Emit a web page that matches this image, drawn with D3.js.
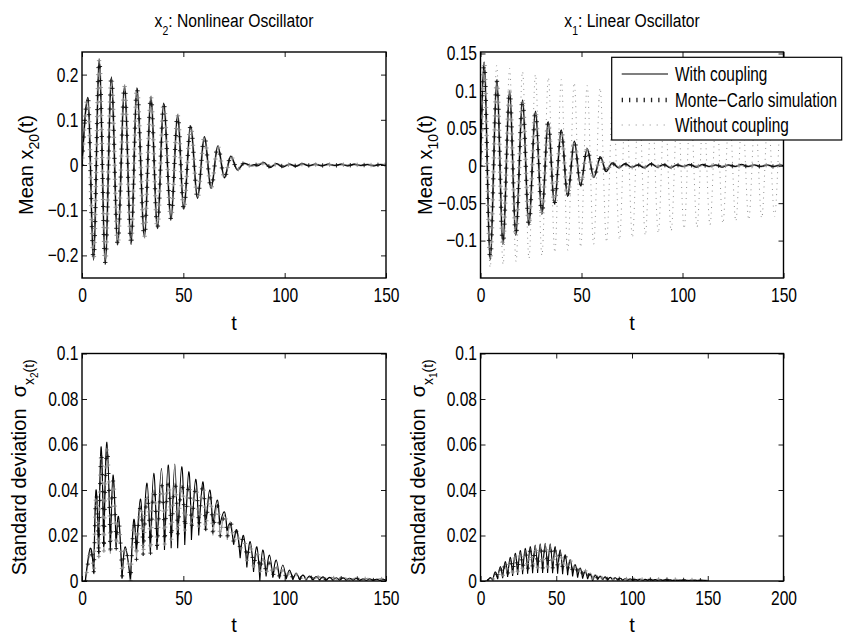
<!DOCTYPE html>
<html>
<head>
<meta charset="utf-8">
<script src="https://cdn.jsdelivr.net/npm/d3@7"></script>
<style>
  html, body { margin: 0; padding: 0; background: #fff; }
  svg { display: block; font-family: "Liberation Sans", Arial, Helvetica, sans-serif; }
</style>
</head>
<body>
<svg id="fig" width="847" height="635"></svg>
<script>
// ---------------------------------------------------------------
// Data: [t, value] turning points of each response curve
// ---------------------------------------------------------------

// Mean of x2 (nonlinear oscillator), coupled model
const meanX2Coupled = [
  [0,0],[2.95,0.150],[5.7,-0.211],[8.5,0.235],[11.5,-0.219],[14.5,0.195],[17.6,-0.177],
  [21.0,0.175],[24.2,-0.176],[27.1,0.171],[30.8,-0.160],[34.0,0.151],[37.2,-0.141],
  [40.3,0.137],[43.9,-0.120],[47.2,0.111],[50.2,-0.098],[53.6,0.087],[57.0,-0.074],
  [60.4,0.063],[63.7,-0.052],[67.0,0.042],[70.3,-0.028],[73.4,0.020],[76.7,-0.011],
  [80.0,0.004],[83.3,-0.001],[85.0,0.001],[86.6,-0.002],[89.7,0.006],[92.7,-0.006],
  [95.9,0.003],[99.1,-0.005],[102.3,0.002],[105.5,-0.003],[108.7,0.003],[111.9,-0.002],
  [115.1,0.002],[118.3,-0.002],[121.5,0.002],[124.7,-0.001],[127.9,0.002],[131.1,-0.002],
  [134.3,0.002],[137.5,-0.001],[140.7,0.001],[143.9,-0.002],[147.1,0.001],[150,0]
];
// Mean of x2, Monte-Carlo estimate
const meanX2MC = [
  [0,0],[2.9,0.148],[5.7,-0.208],[8.5,0.232],[11.5,-0.216],[14.5,0.193],[17.6,-0.176],
  [21.0,0.174],[24.2,-0.174],[27.1,0.169],[30.8,-0.159],[34.0,0.150],[37.2,-0.140],
  [40.3,0.136],[43.9,-0.119],[47.2,0.110],[50.2,-0.097],[53.6,0.086],[57.0,-0.073],
  [60.4,0.062],[63.7,-0.051],[67.0,0.041],[70.3,-0.028],[73.4,0.019],[76.7,-0.010],
  [80.0,0.004],[83.3,-0.002],[86.6,0.001],[89.8,0.004],[92.9,-0.004],[96.1,0.002],
  [99.3,-0.003],[102.5,0.001],[105.7,-0.002],[108.9,0.002],[112.1,-0.001],[115.3,0.001],
  [118.5,-0.001],[121.7,0.001],[124.9,-0.001],[128.1,0.001],[131.3,-0.001],[134.5,0.001],
  [137.7,-0.001],[140.9,0.001],[144.1,-0.001],[147.3,0.001],[150,0]
];

// Mean of x1 (linear oscillator), coupled model
const meanX1Coupled = [
  [0,0],[1.8,0.139],[4.8,-0.126],[8.1,0.114],[11.1,-0.105],[14.4,0.100],[17.5,-0.093],
  [20.8,0.088],[23.95,-0.080],[27.2,0.073],[30.4,-0.065],[33.5,0.059],[36.6,-0.051],
  [40.0,0.048],[43.1,-0.041],[46.5,0.033],[49.5,-0.027],[52.8,0.023],[56.1,-0.016],
  [59.4,0.012],[62.2,-0.008],[65.2,0.004],[68.4,-0.003],[71.6,0.003],[74.8,-0.002],
  [78.0,0.001],[81.2,-0.003],[84.4,0.003],[87.6,-0.002],[90.8,0.002],[94.0,-0.003],
  [97.2,0.001],[100.4,-0.001],[103.6,0.002],[106.8,-0.002],[110.0,0.002],[113.2,-0.001],
  [116.4,0.001],[119.6,-0.002],[122.8,0.001],[126.0,-0.001],[129.2,0.002],[132.4,-0.001],
  [135.6,0.001],[138.8,-0.001],[142.0,0.001],[145.2,-0.001],[148.4,0.001],[150,0]
];
// Mean of x1, Monte-Carlo estimate
const meanX1MC = [
  [0,0],[1.8,0.137],[4.8,-0.124],[8.1,0.113],[11.1,-0.104],[14.4,0.099],[17.5,-0.092],
  [20.8,0.087],[23.95,-0.079],[27.2,0.072],[30.4,-0.064],[33.5,0.058],[36.6,-0.050],
  [40.0,0.047],[43.1,-0.040],[46.5,0.032],[49.5,-0.026],[52.8,0.022],[56.1,-0.015],
  [59.4,0.011],[62.2,-0.007],[65.2,0.003],[68.4,-0.002],[71.6,0.002],[74.8,-0.002],
  [78.0,0.001],[81.2,-0.002],[84.4,0.002],[87.6,-0.001],[90.8,0.001],[94.0,-0.002],
  [97.2,0.001],[100.4,-0.001],[103.6,0.001],[106.8,-0.001],[110.0,0.001],[113.2,-0.001],
  [116.4,0.001],[119.6,-0.001],[122.8,0.001],[126.0,-0.001],[129.2,0.001],[132.4,-0.001],
  [135.6,0.001],[138.8,-0.001],[142.0,0.001],[145.2,-0.001],[148.4,0.001],[150,0]
];
// Mean of x1 with the coupling removed
const meanX1Uncoupled = [
  [0,0],[1.6,0.139],[4.8,-0.136],[8.0,0.134],[11.2,-0.132],[14.4,0.130],[17.6,-0.128],
  [20.8,0.126],[24.0,-0.124],[27.2,0.122],[30.4,-0.120],[33.6,0.118],[36.8,-0.116],
  [40.0,0.115],[43.2,-0.113],[46.4,0.111],[49.6,-0.109],[52.8,0.107],[56.0,-0.105],
  [59.2,0.104],[62.4,-0.102],[65.6,0.101],[68.8,-0.099],[72.0,0.098],[75.2,-0.096],
  [78.4,0.095],[81.6,-0.093],[84.8,0.092],[88.0,-0.090],[91.2,0.089],[94.4,-0.087],
  [97.6,0.086],[100.8,-0.084],[104.0,0.083],[107.2,-0.082],[110.4,0.081],[113.6,-0.079],
  [116.8,0.078],[120.0,-0.077],[123.2,0.076],[126.4,-0.074],[129.6,0.073],[132.8,-0.072],
  [136.0,0.071],[139.2,-0.070],[142.4,0.069],[145.6,-0.068],[148.8,0.067],[150,0.040]
];

// Standard deviation of x2: alternating troughs and peaks
const stdX2Coupled = [
  [1.6,0],[4.1,0.0144],[5.8,0.0034],[6.9,0.040],[8.2,0.012],[9.4,0.059],[10.7,0.015],
  [12.3,0.061],[14.0,0.0136],[15.3,0.0466],[16.8,0.015],[18.1,0.028],[19.75,0.001],
  [21.4,0.015],[23.9,0],[25.5,0.0268],[26.8,0.013],[28.8,0.036],[30.1,0.0144],
  [32.1,0.043],[33.7,0.0129],[35.4,0.0473],[37.0,0.0136],[39.2,0.0495],[40.7,0.0136],
  [42.5,0.051],[44.0,0.0144],[45.8,0.0514],[47.2,0.0144],[49.2,0.0502],[50.7,0.0158],
  [52.7,0.048],[54.0,0.018],[56.1,0.0447],[57.6,0.020],[59.6,0.0436],[60.9,0.0224],
  [63.0,0.040],[64.5,0.0238],[66.7,0.0356],[68.0,0.0246],[70.3,0.0304],[71.6,0.022],
  [73.2,0.025],[74.8,0.016],[76.4,0.0224],[78.05,0.010],[79.7,0.020],[81.35,0.006],
  [83.0,0.0173],[84.65,0.004],[86.3,0.015],[87.75,0],[89.2,0.0136],[90.85,0.002],
  [92.5,0.0114],[94.15,0.0015],[95.8,0.0092],[97.45,0.001],[99.1,0.007],[100.75,0.0008],
  [102.4,0.0048],[104.05,0.0005],[105.7,0.0034],[107.35,0.0005],[109.0,0.0026],
  [110.65,0.0004],[112.3,0.0022],[113.9,0.0004],[115.6,0.0020],[117.2,0.0003],
  [118.9,0.0018],[120.5,0.0003],[122.2,0.0016],[123.8,0.0003],[125.5,0.0014],
  [127.1,0.0003],[128.8,0.0013],[130.4,0.0003],[132.1,0.0012],[133.7,0.0003],
  [135.4,0.0011],[137.0,0.0002],[138.7,0.0010],[140.3,0.0002],[142.0,0.0009],
  [143.6,0.0002],[145.3,0.0008],[146.9,0.0002],[148.6,0.0007],[150,0.0002]
];
const stdX2MC = [
  [1.8,0],[4.2,0.013],[5.9,0.003],[7.0,0.038],[8.3,0.010],[9.5,0.056],[10.8,0.013],
  [12.4,0.058],[14.0,0.012],[15.4,0.044],[16.9,0.014],[18.2,0.026],[19.8,0.002],
  [21.5,0.014],[24.0,0],[25.6,0.025],[26.9,0.0095],[28.9,0.033],[30.2,0.011],
  [32.2,0.037],[33.8,0.012],[35.5,0.040],[37.1,0.014],[39.3,0.042],[40.8,0.016],
  [42.6,0.043],[44.1,0.018],[45.9,0.043],[47.3,0.020],[49.3,0.042],[50.8,0.022],
  [52.8,0.042],[54.1,0.023],[56.2,0.041],[57.7,0.023],[59.7,0.042],[61.0,0.022],
  [63.1,0.037],[64.6,0.020],[66.8,0.033],[68.1,0.019],[70.4,0.029],[71.7,0.018],
  [73.3,0.026],[74.9,0.016],[76.5,0.022],[78.1,0.013],[79.8,0.019],[81.4,0.009],
  [83.1,0.015],[84.7,0.006],[86.4,0.012],[88.0,0.004],[89.3,0.010],[90.9,0.003],
  [92.6,0.008],[94.2,0.002],[95.9,0.006],[97.5,0.0015],[99.2,0.005],[100.8,0.001],
  [102.5,0.004],[104.1,0.0008],[105.8,0.003],[107.4,0.0006],[109.1,0.0025],
  [110.7,0.0005],[112.4,0.002],[114.0,0.0005],[117.0,0.0018],[120.0,0.0005],
  [123.0,0.0016],[126.0,0.0005],[129.0,0.0015],[132.0,0.0005],[135.0,0.0013],
  [138.0,0.0004],[141.0,0.0012],[144.0,0.0004],[147.0,0.0010],[150,0.0004]
];

// Standard deviation of x1: alternating troughs and peaks
const stdX1Coupled = [
  [4.5,0],[6.5,0.0015],[8.1,0.0003],[9.7,0.004],[11.3,0.0008],[13.0,0.0063],[14.6,0.0012],
  [16.3,0.0085],[17.9,0.0018],[19.6,0.0104],[21.2,0.0022],[22.9,0.0122],[24.5,0.0026],
  [26.2,0.0134],[27.8,0.003],[29.5,0.0144],[31.1,0.0032],[32.8,0.0151],[34.4,0.0034],
  [36.1,0.0158],[37.7,0.0035],[39.4,0.0163],[41.0,0.0035],[42.7,0.0166],[44.3,0.0035],
  [46.0,0.0163],[47.6,0.0034],[49.3,0.0151],[50.9,0.0032],[52.6,0.0137],[54.2,0.003],
  [55.9,0.0115],[57.5,0.0026],[59.2,0.0093],[60.8,0.002],[62.5,0.0071],[64.1,0.0015],
  [65.8,0.0056],[67.4,0.001],[69.1,0.0041],[70.7,0.0008],[72.4,0.0030],[74.0,0],
  [75.7,0.0024],[77.3,0.0006],[79.0,0.0020],[80.6,0.0005],[82.3,0.0018],[83.9,0.0004],
  [85.6,0.0016],[87.2,0.0004],[88.9,0.0014],[90.5,0.0003],[92.2,0.0012],[93.8,0.0003],
  [95.5,0.0010],[97.1,0.0003],[98.8,0.0009],[100.4,0.0002],[102.1,0.0008],[103.7,0.0002],
  [105.4,0.0008],[107.0,0.0002],[108.7,0.0007],[110.3,0.0002],[112.0,0.0007],
  [113.6,0.0002],[115.3,0.0006],[116.9,0.0002],[118.6,0.0006],[120.2,0.0002],
  [121.9,0.0005],[123.5,0.0002],[125.2,0.0005],[126.8,0.0001],[128.5,0.0004],
  [130.1,0.0001],[131.8,0.0004],[133.4,0.0001],[135.1,0.0003],[136.7,0.0001],
  [138.4,0.0003],[140.0,0.0001],[141.7,0.0003],[143.3,0.0001],[145.0,0.0002],
  [146.6,0.0001],[148.3,0.0002],[150,0]
];
const stdX1MC = [
  [4.6,0],[6.6,0.0012],[8.2,0.0004],[9.8,0.0035],[11.4,0.001],[13.1,0.0055],[14.7,0.0018],
  [16.4,0.0075],[18.0,0.0026],[19.7,0.0092],[21.3,0.0033],[23.0,0.0108],[24.6,0.0039],
  [26.3,0.0119],[27.9,0.0044],[29.6,0.0128],[31.2,0.0048],[32.9,0.0135],[34.5,0.0052],
  [36.2,0.0141],[37.8,0.0055],[39.5,0.0146],[41.1,0.0057],[42.8,0.0152],[44.4,0.0058],
  [46.1,0.0147],[47.7,0.0057],[49.4,0.0138],[51.0,0.0055],[52.7,0.0125],[54.3,0.0051],
  [56.0,0.0108],[57.6,0.0045],[59.3,0.0090],[60.9,0.0038],[62.6,0.0072],[64.2,0.003],
  [65.9,0.0058],[67.5,0.0024],[69.2,0.0045],[70.8,0.0018],[72.5,0.0035],[74.1,0.0012],
  [75.8,0.0028],[77.4,0.0009],[79.1,0.0023],[80.7,0.0007],[82.4,0.0019],[84.0,0.0006],
  [85.7,0.0016],[87.3,0.0005],[89.0,0.0014],[90.6,0.0004],[92.3,0.0012],[93.9,0.0004],
  [95.6,0.0011],[97.2,0.0004],[98.9,0.0010],[102.0,0.0004],[105.0,0.0009],[108.0,0.0004],
  [111.0,0.0008],[114.0,0.0004],[117.0,0.0008],[120.0,0.0004],[123.0,0.0007],
  [126.0,0.0003],[129.0,0.0007],[132.0,0.0003],[135.0,0.0006],[138.0,0.0003],
  [141.0,0.0006],[144.0,0.0003],[147.0,0.0005],[150,0.0003]
];

// Tick values
const meanX2Ticks = [-0.2, -0.1, 0, 0.1, 0.2];
const meanX1Ticks = [-0.1, -0.05, 0, 0.05, 0.1, 0.15];
const stdTicks    = [0, 0.02, 0.04, 0.06, 0.08, 0.1];
const tTicks150   = [0, 50, 100, 150];
const tTicks200   = [0, 50, 100, 150, 200];

// Legend entries
const legendLabels = ["With coupling", "Monte\u2212Carlo simulation", "Without coupling"];

// ---------------------------------------------------------------
// Drawing
// ---------------------------------------------------------------
const svg = d3.select("#fig");
const defs = svg.append("defs");
const fmt = d3.format("~g");
const TICK_SX = 0.78;   // horizontal condensing of tick labels
const TICK_FS = 20;

function makePanel(cfg) {
  const x = d3.scaleLinear().domain(cfg.xDomain).range([cfg.left, cfg.left + cfg.width]);
  const y = d3.scaleLinear().domain(cfg.yDomain).range([cfg.top + cfg.height, cfg.top]);
  const g = svg.append("g");
  const clipId = "clip-" + cfg.id;
  defs.append("clipPath").attr("id", clipId).append("rect")
    .attr("x", cfg.left).attr("y", cfg.top).attr("width", cfg.width).attr("height", cfg.height);
  const plot = g.append("g").attr("clip-path", `url(#${clipId})`);
  return { x, y, g, plot, cfg };
}

function finishAxes(p) {
  const { x, y, g, cfg } = p;
  const tidy = sel => {
    sel.attr("font-size", null).attr("font-family", null);
    sel.select(".domain").remove();
    sel.selectAll(".tick line").attr("stroke", "#000").attr("stroke-width", 0.9);
  };
  const bottom = g.append("g").attr("transform", `translate(0,${cfg.top + cfg.height})`)
    .call(d3.axisBottom(x).tickValues(cfg.xTicks).tickFormat(fmt)
      .tickSizeInner(-5).tickSizeOuter(0).tickPadding(10));
  tidy(bottom);
  bottom.selectAll("text").attr("fill", "#000").style("font-size", TICK_FS + "px")
    .attr("transform", `scale(${TICK_SX},1)`);

  const left = g.append("g").attr("transform", `translate(${cfg.left},0)`)
    .call(d3.axisLeft(y).tickValues(cfg.yTicks).tickFormat(fmt)
      .tickSizeInner(-5).tickSizeOuter(0).tickPadding(3));
  tidy(left);
  left.selectAll("text").attr("fill", "#000").style("font-size", TICK_FS + "px")
    .attr("x", -3.5 / TICK_SX).attr("transform", `scale(${TICK_SX},1)`);

  const topAx = g.append("g").attr("transform", `translate(0,${cfg.top})`)
    .call(d3.axisTop(x).tickValues(cfg.xTicks).tickFormat(() => "")
      .tickSizeInner(-5).tickSizeOuter(0));
  tidy(topAx);
  const rightAx = g.append("g").attr("transform", `translate(${cfg.left + cfg.width},0)`)
    .call(d3.axisRight(y).tickValues(cfg.yTicks).tickFormat(() => "")
      .tickSizeInner(-5).tickSizeOuter(0));
  tidy(rightAx);

  g.append("rect").attr("x", cfg.left).attr("y", cfg.top)
    .attr("width", cfg.width).attr("height", cfg.height)
    .attr("fill", "none").attr("stroke", "#000").attr("stroke-width", 1.4);

  // x-axis label
  g.append("text").attr("x", cfg.left + cfg.width / 2).attr("y", cfg.xLabelY)
    .attr("text-anchor", "middle").style("font-size", "20px").text("t");
}

// Smooth oscillation through turning points
function waveLine(p) {
  return d3.line().x(d => p.x(d[0])).y(d => p.y(d[1])).curve(d3.curveMonotoneX);
}
// Arches: each trough-peak-trough triple as one natural spline piece
function archPath(p, pts) {
  const seg = d3.line().x(d => p.x(d[0])).y(d => p.y(d[1])).curve(d3.curveNatural);
  let d = "";
  for (let i = 0; i + 2 < pts.length; i += 2) d += seg([pts[i], pts[i + 1], pts[i + 2]]);
  return d;
}
// "+" markers spaced evenly along a drawn path
function plusMarkers(layer, node, step, arm) {
  const L = node.getTotalLength();
  let dark = "", light = "";
  d3.range(0, L, step).forEach((s, i) => {
    const q = node.getPointAtLength(s);
    const m = `M${(q.x - arm).toFixed(2)},${q.y.toFixed(2)}h${2 * arm}M${q.x.toFixed(2)},${(q.y - arm).toFixed(2)}v${2 * arm}`;
    if (i % 2) light += m; else dark += m;
  });
  layer.append("path").attr("d", light).attr("fill", "none").attr("stroke", "#8a8a8a").attr("stroke-width", 0.9);
  layer.append("path").attr("d", dark).attr("fill", "none").attr("stroke", "#111").attr("stroke-width", 0.9);
}

function drawSeries(p, coupled, mc, mode, uncoupled) {
  const wave = mode === "wave";
  const pathFor = pts => wave ? waveLine(p)(pts) : archPath(p, pts);
  if (uncoupled) {
    p.plot.append("path").attr("d", waveLine(p)(uncoupled))
      .attr("fill", "none").attr("stroke", "#666").attr("stroke-width", 0.8)
      .attr("stroke-dasharray", "0.9 4.6");
  }
  const mcPath = p.plot.append("path").attr("d", pathFor(mc))
    .attr("fill", "none").attr("stroke", "#999").attr("stroke-width", wave ? 2 : 1.1);
  p.plot.append("path").attr("d", pathFor(coupled))
    .attr("fill", "none").attr("stroke", "#000").attr("stroke-width", 1.1);
  plusMarkers(p.plot, mcPath.node(), wave ? 7 : 8.5, wave ? 2.2 : 2);
}

// Title with a subscript index
function title(p, sub, rest) {
  const c = p.cfg;
  const t = svg.append("text")
    .attr("transform", `translate(${c.left + c.width / 2},27) scale(0.87,1)`)
    .attr("text-anchor", "middle").style("font-size", "18px");
  t.append("tspan").text("x");
  t.append("tspan").attr("dy", 8).style("font-size", "12px").text(sub);
  t.append("tspan").attr("dy", -8).text(rest);
}

// Rotated y label: "Mean x_{NN}(t)"
function meanLabel(p, bx, sub) {
  const c = p.cfg;
  const t = svg.append("text")
    .attr("transform", `translate(${bx},${c.top + c.height / 2}) rotate(-90)`)
    .attr("text-anchor", "middle").style("font-size", "20px");
  t.append("tspan").text("Mean x");
  t.append("tspan").attr("dy", 6).style("font-size", "14px").text(sub);
  t.append("tspan").attr("dy", -6).text("(t)");
}
// Rotated y label: "Standard deviation  σ_{x_N(t)}"
function stdLabel(p, bx, sub) {
  const c = p.cfg;
  const t = svg.append("text")
    .attr("transform", `translate(${bx},${c.top + c.height / 2}) rotate(-90)`)
    .attr("text-anchor", "middle").style("font-size", "20px")
    .attr("xml:space", "preserve");
  t.append("tspan").text("Standard deviation  \u03c3");
  t.append("tspan").attr("dy", 8).style("font-size", "14px").text("x");
  t.append("tspan").attr("dy", 4).style("font-size", "10px").text(sub);
  t.append("tspan").attr("dy", -4).style("font-size", "14px").text("(t)");
}

// Panels
const pMeanX2 = makePanel({ id: "mx2", left: 82, top: 52, width: 304, height: 226,
  xDomain: [0, 150], yDomain: [-0.25, 0.25], xTicks: tTicks150, yTicks: meanX2Ticks, xLabelY: 330 });
const pMeanX1 = makePanel({ id: "mx1", left: 480.5, top: 52, width: 303, height: 226,
  xDomain: [0, 150], yDomain: [-0.15, 0.152], xTicks: tTicks150, yTicks: meanX1Ticks, xLabelY: 330 });
const pStdX2 = makePanel({ id: "sx2", left: 82, top: 353.5, width: 304, height: 227.5,
  xDomain: [0, 150], yDomain: [0, 0.1], xTicks: tTicks150, yTicks: stdTicks, xLabelY: 632 });
const pStdX1 = makePanel({ id: "sx1", left: 480.5, top: 353.5, width: 303, height: 227.5,
  xDomain: [0, 200], yDomain: [0, 0.1], xTicks: tTicks200, yTicks: stdTicks, xLabelY: 632 });

drawSeries(pMeanX2, meanX2Coupled, meanX2MC, "wave");
drawSeries(pMeanX1, meanX1Coupled, meanX1MC, "wave", meanX1Uncoupled);
drawSeries(pStdX2, stdX2Coupled, stdX2MC, "arch");
drawSeries(pStdX1, stdX1Coupled, stdX1MC, "arch");

[pMeanX2, pMeanX1, pStdX2, pStdX1].forEach(finishAxes);

title(pMeanX2, "2", ": Nonlinear Oscillator");
title(pMeanX1, "1", ": Linear Oscillator");
meanLabel(pMeanX2, 33, "20");
meanLabel(pMeanX1, 432, "10");
stdLabel(pStdX2, 26, "2");
stdLabel(pStdX1, 424.5, "1");

// Legend (top-right panel)
const lg = svg.append("g");
lg.append("rect").attr("x", 611.7).attr("y", 57.3).attr("width", 230).attr("height", 82.7)
  .attr("fill", "#fff").attr("stroke", "#000").attr("stroke-width", 1.2);
const legendRows = [74, 100, 125];
legendLabels.forEach((label, i) => {
  const yy = legendRows[i];
  const ln = lg.append("line").attr("x1", 621.7).attr("x2", 668).attr("y1", yy).attr("y2", yy)
    .attr("fill", "none");
  if (i === 0) ln.attr("stroke", "#000").attr("stroke-width", 1.1);
  if (i === 1) ln.attr("stroke", "#222").attr("stroke-width", 4.5).attr("stroke-dasharray", "1.3 6");
  if (i === 2) ln.attr("stroke", "#888").attr("stroke-width", 1).attr("stroke-dasharray", "1 6");
  lg.append("text").attr("transform", `translate(675,${yy + 7}) scale(0.79,1)`)
    .style("font-size", "19.5px").text(label);
});
</script>
</body>
</html>
